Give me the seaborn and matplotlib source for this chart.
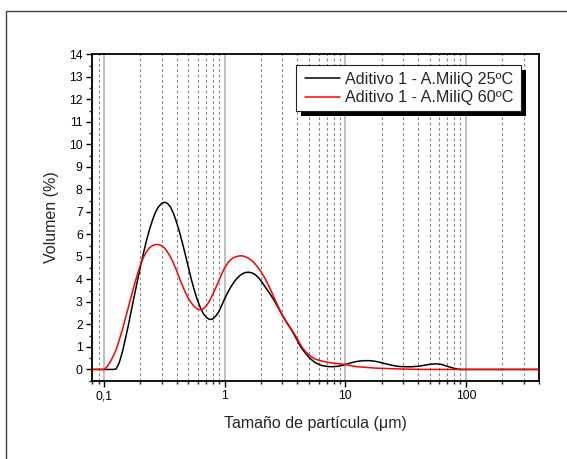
import numpy as np
import pandas as pd
import matplotlib
matplotlib.use("Agg")
import matplotlib.pyplot as plt
from matplotlib.patches import Rectangle
from matplotlib.transforms import IdentityTransform
from matplotlib.ticker import FixedLocator, FixedFormatter, MultipleLocator, NullFormatter
import seaborn as sns

# Particle size classes (um)
size_um = [0.0794, 0.0891,
           0.1, 0.1059, 0.1122, 0.1189, 0.1259, 0.1334, 0.1413, 0.1496, 0.1585, 0.1679,
           0.1778, 0.1884, 0.1995, 0.2113, 0.2239, 0.2371, 0.2512, 0.2661, 0.2818, 0.2985,
           0.3162, 0.335, 0.3548, 0.3758, 0.3981, 0.4217, 0.4467, 0.4732, 0.5012, 0.5309,
           0.5623, 0.5957, 0.631, 0.6683, 0.7079, 0.7499, 0.7943, 0.8414, 0.8913, 0.9441,
           1.0, 1.059, 1.122, 1.189, 1.259, 1.334, 1.413, 1.496, 1.585, 1.679,
           1.778, 1.884, 1.995, 2.113, 2.239, 2.371, 2.512, 2.661, 2.818, 2.985,
           3.162, 3.35, 3.548, 3.758, 3.981, 4.217, 4.467, 4.732, 5.012, 5.309,
           5.623, 6.31, 7.079, 7.943, 8.913,
           10.0, 11.22, 12.59, 14.13, 15.85, 17.78, 19.95, 22.39, 25.12, 28.18,
           31.62, 35.48, 39.81, 44.67, 50.12, 56.23, 63.1, 70.79, 79.43, 89.13,
           100.0, 125.9, 158.5, 199.5, 251.2, 316.2, 398.1]

# Volume (%) - Aditivo 1 in MiliQ water at 25 C
vol_25 = [0, 0,
          0, 0, 0, 0, 0.02, 0.3, 0.75, 1.33, 1.94, 2.6,
          3.26, 3.9, 4.54, 5.14, 5.7, 6.2, 6.62, 6.98, 7.22, 7.37,
          7.43, 7.38, 7.22, 6.93, 6.55, 6.1, 5.6, 5.06, 4.5, 3.96,
          3.48, 3.06, 2.72, 2.46, 2.3, 2.22, 2.24, 2.37, 2.56, 2.85,
          3.15, 3.42, 3.66, 3.87, 4.04, 4.17, 4.26, 4.31, 4.32, 4.29,
          4.22, 4.1, 3.94, 3.75, 3.55, 3.36, 3.15, 2.92, 2.68, 2.43,
          2.2, 1.98, 1.79, 1.55, 1.3, 1.04, 0.85, 0.68, 0.53, 0.41,
          0.3, 0.18, 0.13, 0.12, 0.15,
          0.22, 0.3, 0.36, 0.39, 0.39, 0.36, 0.3, 0.23, 0.17, 0.13,
          0.12, 0.12, 0.14, 0.18, 0.23, 0.25, 0.22, 0.13, 0.05, 0,
          0, 0, 0, 0, 0, 0, 0]

# Volume (%) - Aditivo 1 in MiliQ water at 60 C
vol_60 = [0, 0,
          0.0, 0.12, 0.33, 0.58, 0.88, 1.3, 1.74, 2.25, 2.74, 3.25,
          3.74, 4.2, 4.63, 4.97, 5.22, 5.4, 5.5, 5.55, 5.55, 5.5,
          5.4, 5.22, 5.0, 4.72, 4.4, 4.05, 3.72, 3.4, 3.15, 2.94,
          2.78, 2.68, 2.65, 2.7, 2.85, 3.05, 3.33, 3.62, 3.93, 4.25,
          4.52, 4.73, 4.88, 4.97, 5.02, 5.05, 5.04, 5.0, 4.93, 4.83,
          4.7, 4.53, 4.35, 4.13, 3.88, 3.6, 3.3, 3.0, 2.72, 2.45,
          2.22, 2.0, 1.8, 1.6, 1.37, 1.12, 0.92, 0.76, 0.63, 0.54,
          0.46, 0.38, 0.32, 0.28, 0.25,
          0.22, 0.16, 0.12, 0.1, 0.08, 0.06, 0.05, 0.04, 0.03, 0.02,
          0.015, 0.01, 0.005, 0, 0, 0, 0, 0, 0, 0,
          0, 0, 0, 0, 0, 0, 0]

series_labels = ["Aditivo 1 - A.MiliQ 25ºC", "Aditivo 1 - A.MiliQ 60ºC"]
series_colors = ["#000000", "#ff0000"]

x_major = [0.1, 1, 10, 100]
x_major_labels = ["0,1", "1", "10", "100"]

df = pd.concat([
    pd.DataFrame({"size": size_um, "vol": vol_25, "serie": series_labels[0]}),
    pd.DataFrame({"size": size_um, "vol": vol_60, "serie": series_labels[1]}),
])

sns.set_style("ticks")
plt.rcParams["font.family"] = ["Liberation Sans", "DejaVu Sans"]

W, H = 567, 459
fig = plt.figure(figsize=(W / 100, H / 100), dpi=100)
ax = fig.add_axes([0.163, 0.1706, 0.787, 0.711])

# decade and sub-decade grid lines
minor_x = [m * d for d in (0.01, 0.1, 1, 10, 100) for m in range(2, 10)]
minor_x = [v for v in minor_x if 0.08 <= v <= 400]
for v in minor_x:
    ax.axvline(v, color="#8a8a8a", lw=0.8, ls=(0, (2.6, 2.2)), zorder=0.5)
for v in x_major:
    ax.axvline(v, color="#b4b4b4", lw=1.2, zorder=0.6)

sns.lineplot(data=df, x="size", y="vol", hue="serie", palette=series_colors,
             estimator=None, sort=False, lw=1.1, ax=ax, zorder=3)

ax.set_xscale("log")
ax.set_xlim(0.08, 400)
ax.set_ylim(-0.5, 14)

ax.xaxis.set_major_locator(FixedLocator(x_major))
ax.xaxis.set_major_formatter(FixedFormatter(x_major_labels))
ax.xaxis.set_minor_locator(FixedLocator(minor_x))
ax.xaxis.set_minor_formatter(NullFormatter())
ax.yaxis.set_major_locator(MultipleLocator(1))
ax.yaxis.set_minor_locator(MultipleLocator(0.5))

ax.tick_params(which="major", direction="out", length=4, width=1.0,
               labelsize=8.7, pad=3, colors="black")
ax.tick_params(which="minor", direction="out", length=2.3, width=1.0)
ax.tick_params(top=False, right=False, which="both")

for sp in ax.spines.values():
    sp.set_visible(True)
    sp.set_linewidth(1.3)
    sp.set_color("black")

ax.set_xlabel("Tamaño de partícula (μm)", fontsize=11.5, labelpad=10)
ax.set_ylabel("Volumen (%)", fontsize=11.5, labelpad=7)

# legend entries, placed inside a boxed panel with a solid drop shadow
leg = ax.legend(loc="center left", bbox_to_anchor=(305 / W, 1 - 88.5 / H),
                bbox_transform=fig.transFigure, borderaxespad=0, borderpad=0,
                fontsize=11.6, frameon=False, handlelength=2.15,
                handletextpad=0.35, labelspacing=0.22)
leg.set_zorder(6)
for line in leg.get_lines():
    line.set_linewidth(1.1)

box_x0, box_x1 = 296, 521
box_top, box_bot = 65, 111
shadow = Rectangle((box_x0 + 5, H - box_bot - 5), box_x1 - box_x0, box_bot - box_top,
                   transform=IdentityTransform(), facecolor="black",
                   edgecolor="none", zorder=4.8, clip_on=False)
frame = Rectangle((box_x0, H - box_bot), box_x1 - box_x0, box_bot - box_top,
                  transform=IdentityTransform(), facecolor="white",
                  edgecolor="#222222", lw=0.8, zorder=4.9, clip_on=False)
ax.add_patch(shadow)
ax.add_patch(frame)

# outer frame around the figure
fig.patches.append(Rectangle((6 / W, -0.1), 1.2, 0.976 + 0.1,
                             transform=fig.transFigure, fill=False,
                             edgecolor="#404040", lw=1.0, clip_on=False))

fig.savefig("out.png", dpi=100)
